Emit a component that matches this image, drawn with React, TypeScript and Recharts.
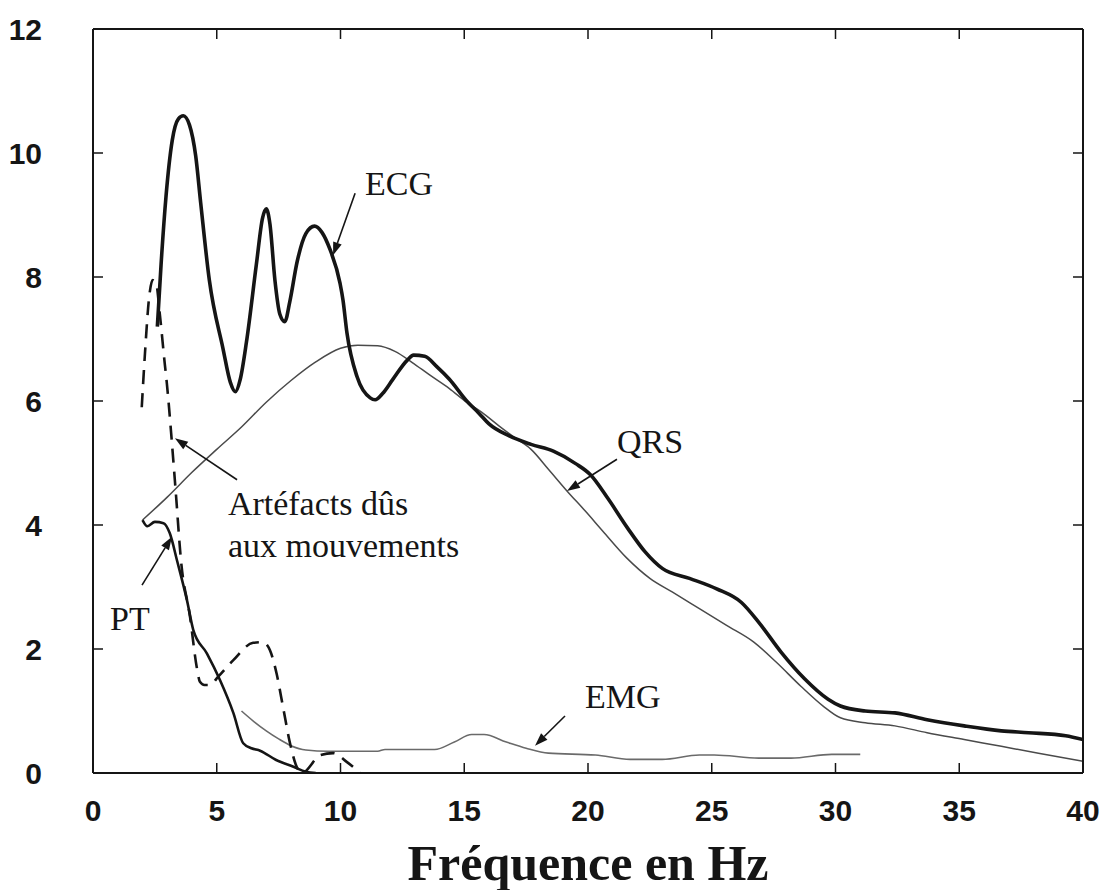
import React from 'react';
import { LineChart, Line, XAxis, YAxis, ReferenceLine, ReferenceDot } from 'recharts';

// ---------- tick labels ----------
const X_TICKS = [0, 5, 10, 15, 20, 25, 30, 35, 40];
const Y_TICKS = [0, 2, 4, 6, 8, 10, 12];

// ---------- series (frequency in Hz, amplitude) ----------
const ECG_F = [2.6, 2.75, 2.95, 3.2, 3.45, 3.65, 3.9, 4.15, 4.35, 4.7, 5.25, 5.55, 5.75, 5.95, 6.2, 6.6, 6.85, 7.0, 7.15, 7.35, 7.55, 7.75, 7.95, 8.25, 8.6, 8.95, 9.25, 9.58, 9.98, 10.1, 10.26, 10.67, 11.2, 11.4, 11.7, 12.1, 12.7, 12.95, 13.4, 13.9, 14.4, 15.1, 15.6, 16.0, 16.8, 17.7, 18.6, 19.5, 20.1, 20.8, 21.6, 22.3, 23.0, 24.1, 25.2, 26.2, 26.9, 27.8, 28.75, 29.7, 30.2, 31.2, 32.4, 33.7, 35.2, 36.7, 37.8, 39.3, 40];
const ECG_A = [7.2, 8.2, 9.3, 10.2, 10.55, 10.6, 10.45, 9.95, 9.2, 7.95, 6.85, 6.3, 6.15, 6.35, 6.95, 8.2, 8.95, 9.1, 8.85, 7.95, 7.4, 7.28, 7.6, 8.25, 8.7, 8.82, 8.72, 8.44, 7.9, 7.63, 7.1, 6.39, 6.05, 6.02, 6.12, 6.34, 6.66, 6.74, 6.72, 6.55, 6.35, 6.0, 5.8, 5.63, 5.44, 5.3, 5.19, 4.99, 4.81, 4.43, 3.95, 3.57, 3.3, 3.14, 2.97, 2.75, 2.43, 1.95, 1.52, 1.19, 1.08, 1.0, 0.97, 0.86, 0.76, 0.68, 0.65, 0.6, 0.54];

const QRS_F = [2.0, 3.0, 4.0, 5.0, 6.0, 7.0, 8.0, 9.0, 10.0, 10.7, 11.5, 12.2, 12.9, 13.6, 14.4, 15.1, 15.7, 16.4, 17.0, 17.7, 18.4, 19.15, 19.9, 20.6, 21.56, 22.5, 23.4, 24.5, 25.6, 26.7, 27.6, 28.6, 29.5, 30.2, 31.2, 32.4, 33.7, 35.2, 36.7, 38.2, 40];
const QRS_A = [4.08, 4.45, 4.85, 5.22, 5.58, 5.98, 6.33, 6.63, 6.85, 6.9, 6.89, 6.8, 6.62, 6.42, 6.2, 5.98, 5.82, 5.6, 5.42, 5.22, 4.9, 4.55, 4.22, 3.9, 3.47, 3.14, 2.92, 2.65, 2.38, 2.11, 1.79, 1.4, 1.08, 0.89, 0.81, 0.76, 0.65, 0.54, 0.43, 0.32, 0.19];

const EMG_F = [6.0, 6.5, 7.0, 7.5, 8.0, 8.6, 9.5, 11.5, 11.8, 13.8, 14.6, 15.3, 15.8, 16.7, 17.5, 18.4, 20.3, 21.7, 23.0, 24.5, 25.1, 26.9, 28.2, 29.85, 31.0];
const EMG_A = [1.0, 0.83, 0.68, 0.55, 0.44, 0.37, 0.35, 0.35, 0.38, 0.38, 0.5, 0.62, 0.62, 0.5, 0.4, 0.32, 0.29, 0.22, 0.22, 0.29, 0.29, 0.24, 0.24, 0.3, 0.3];

const PT_F = [2.0, 2.2, 2.5, 2.85, 3.1, 3.4, 3.8, 4.05, 4.6, 5.13, 5.67, 6.07, 6.4, 6.75, 7.4, 8.1, 8.6, 9.0];
const PT_A = [4.08, 3.98, 4.05, 4.03, 3.87, 3.42, 2.78, 2.31, 1.93, 1.5, 0.97, 0.48, 0.4, 0.36, 0.21, 0.1, 0.02, 0.0];

const ART_F = [1.97, 2.1, 2.27, 2.41, 2.55, 2.7, 2.9, 2.98, 3.18, 3.35, 3.55, 3.92, 4.19, 4.32, 4.5, 4.73, 5.05, 5.67, 6.47, 6.87, 7.15, 7.42, 7.68, 7.96, 8.23, 8.43, 9.2, 9.7, 10.25, 10.8];
const ART_A = [5.9, 6.77, 7.68, 7.95, 7.9, 7.4, 6.6, 6.3, 5.37, 4.5, 3.45, 2.52, 1.71, 1.47, 1.42, 1.42, 1.55, 1.82, 2.1, 2.11, 1.98, 1.6, 1.06, 0.48, 0.1, 0.0, 0.29, 0.32, 0.18, 0.0];

// ---------- annotations (data coordinates) ----------
const LABEL_TEXT = ['ECG', 'QRS', 'EMG', 'PT', 'Artéfacts dûs', 'aux mouvements'];
const LABEL_F = [10.99, 21.17, 19.88, 0.69, 5.45, 5.45];
const LABEL_A = [9.32, 5.16, 1.05, 2.31, 4.16, 3.48];

const ARROW_FROM_F = [10.59, 21.17, 19.07, 1.98, 5.82];
const ARROW_FROM_A = [9.35, 5.06, 0.92, 3.03, 4.73];
const ARROW_TO_F = [9.7, 19.15, 17.86, 3.19, 3.31];
const ARROW_TO_A = [8.35, 4.55, 0.44, 3.81, 5.4];

const zip = (f: number[], a: number[]) => f.map((x, i) => ({ f: x, v: a[i] }));

const ecgData = zip(ECG_F, ECG_A);
const qrsData = zip(QRS_F, QRS_A);
const emgData = zip(EMG_F, EMG_A);
const ptData = zip(PT_F, PT_A);
const artData = zip(ART_F, ART_A);

const SERIF = '"Liberation Serif", "Times New Roman", "DejaVu Serif", serif';
const SANS = '"Liberation Sans", Arial, "DejaVu Sans", sans-serif';
const INK = '#151515';
const TICK_LEN = 10;

// Inward ticks, drawn by custom tick renderers (tickSize 0, tickMargin 0 -> x/y is the axis position)
const BottomTick = (p: any) => {
  const { x, y, payload } = p;
  return (
    <g>
      <line x1={x} y1={y} x2={x} y2={y - TICK_LEN} stroke={INK} strokeWidth={1.5} />
      <text x={x} y={y + 48} textAnchor="middle" fontFamily={SANS} fontWeight={700} fontSize={30} fill={INK}>
        {payload.value}
      </text>
    </g>
  );
};
const TopTick = (p: any) => {
  const { x, y, payload } = p;
  if (payload.value === 0 || payload.value === 40) return <g />;
  return <line x1={x} y1={y} x2={x} y2={y + TICK_LEN} stroke={INK} strokeWidth={1.5} />;
};
const LeftTick = (p: any) => {
  const { x, y, payload } = p;
  return (
    <g>
      {payload.value !== 0 && payload.value !== 12 && (
        <line x1={x} y1={y} x2={x + TICK_LEN} y2={y} stroke={INK} strokeWidth={1.5} />
      )}
      <text x={x - 51} y={y + 11} textAnchor="end" fontFamily={SANS} fontWeight={700} fontSize={30} fill={INK}>
        {payload.value}
      </text>
    </g>
  );
};
const RightTick = (p: any) => {
  const { x, y, payload } = p;
  if (payload.value === 0 || payload.value === 12) return <g />;
  return <line x1={x} y1={y} x2={x - TICK_LEN} y2={y} stroke={INK} strokeWidth={1.5} />;
};

const arrowShape = (p: any) => {
  const { x1, y1, x2, y2 } = p;
  if ([x1, y1, x2, y2].some((v) => typeof v !== 'number' || isNaN(v))) return <g />;
  const dx = x2 - x1;
  const dy = y2 - y1;
  const len = Math.sqrt(dx * dx + dy * dy) || 1;
  const ux = dx / len;
  const uy = dy / len;
  const hl = 13;
  const hw = 4.5;
  const bx = x2 - ux * hl;
  const by = y2 - uy * hl;
  const pts = `${x2},${y2} ${bx - uy * hw},${by + ux * hw} ${bx + uy * hw},${by - ux * hw}`;
  return (
    <g>
      <line x1={x1} y1={y1} x2={bx} y2={by} stroke={INK} strokeWidth={1.6} />
      <polygon points={pts} fill={INK} />
    </g>
  );
};

const makeTextShape = (text: string) => (p: any) => (
  <text x={p.cx} y={p.cy} fontFamily={SERIF} fontSize={34} fill={INK} textAnchor="start">
    {text}
  </text>
);

export default function App() {
  return (
    <div style={{ position: 'absolute', left: 0, top: 0, width: 1100, height: 890, background: '#fff' }}>
      <LineChart width={1100} height={890} margin={{ top: 28, right: 16, left: 33, bottom: 0 }}>
        <XAxis
          xAxisId="b"
          type="number"
          dataKey="f"
          domain={[0, 40]}
          allowDataOverflow
          ticks={X_TICKS}
          interval={0}
          height={117}
          tickSize={0}
          tickMargin={0}
          tickLine={false}
          axisLine={{ stroke: INK, strokeWidth: 2 }}
          tick={<BottomTick />}
          label={{
            value: 'Fréquence en Hz',
            position: 'insideBottom',
            offset: 10,
            fontSize: 50,
            fontWeight: 700,
            fontFamily: SERIF,
            fill: INK,
          }}
        />
        <XAxis
          xAxisId="t"
          orientation="top"
          type="number"
          dataKey="f"
          domain={[0, 40]}
          allowDataOverflow
          ticks={X_TICKS}
          interval={0}
          height={1}
          tickSize={0}
          tickMargin={0}
          tickLine={false}
          axisLine={{ stroke: INK, strokeWidth: 2 }}
          tick={<TopTick />}
        />
        <YAxis
          yAxisId="l"
          type="number"
          domain={[0, 12]}
          allowDataOverflow
          ticks={Y_TICKS}
          interval={0}
          width={60}
          tickSize={0}
          tickMargin={0}
          tickLine={false}
          axisLine={{ stroke: INK, strokeWidth: 2 }}
          tick={<LeftTick />}
        />
        <YAxis
          yAxisId="r"
          orientation="right"
          type="number"
          domain={[0, 12]}
          allowDataOverflow
          ticks={Y_TICKS}
          interval={0}
          width={1}
          tickSize={0}
          tickMargin={0}
          tickLine={false}
          axisLine={{ stroke: INK, strokeWidth: 2 }}
          tick={<RightTick />}
        />

        <Line xAxisId="t" yAxisId="r" data={qrsData} dataKey="v" type="monotone" stroke="#4a4a4a" strokeWidth={1.5} dot={false} isAnimationActive={false} />
        <Line xAxisId="b" yAxisId="l" data={emgData} dataKey="v" type="monotone" stroke="#6a6a6a" strokeWidth={1.6} dot={false} isAnimationActive={false} />
        <Line xAxisId="b" yAxisId="l" data={ptData} dataKey="v" type="monotone" stroke={INK} strokeWidth={2.6} dot={false} isAnimationActive={false} />
        <Line xAxisId="b" yAxisId="l" data={artData} dataKey="v" type="monotone" stroke={INK} strokeWidth={2.6} strokeDasharray="14 9" dot={false} isAnimationActive={false} />
        <Line xAxisId="b" yAxisId="l" data={ecgData} dataKey="v" type="monotone" stroke={INK} strokeWidth={3.6} dot={false} isAnimationActive={false} />

        {ARROW_FROM_F.map((f, i) => (
          <ReferenceLine
            key={'arr' + i}
            xAxisId="b"
            yAxisId="l"
            segment={[
              { x: f, y: ARROW_FROM_A[i] },
              { x: ARROW_TO_F[i], y: ARROW_TO_A[i] },
            ]}
            shape={arrowShape}
            ifOverflow="visible"
          />
        ))}
        {LABEL_TEXT.map((t, i) => (
          <ReferenceDot
            key={'lab' + i}
            xAxisId="b"
            yAxisId="l"
            x={LABEL_F[i]}
            y={LABEL_A[i]}
            r={0}
            shape={makeTextShape(t)}
            ifOverflow="visible"
          />
        ))}
      </LineChart>
    </div>
  );
}
